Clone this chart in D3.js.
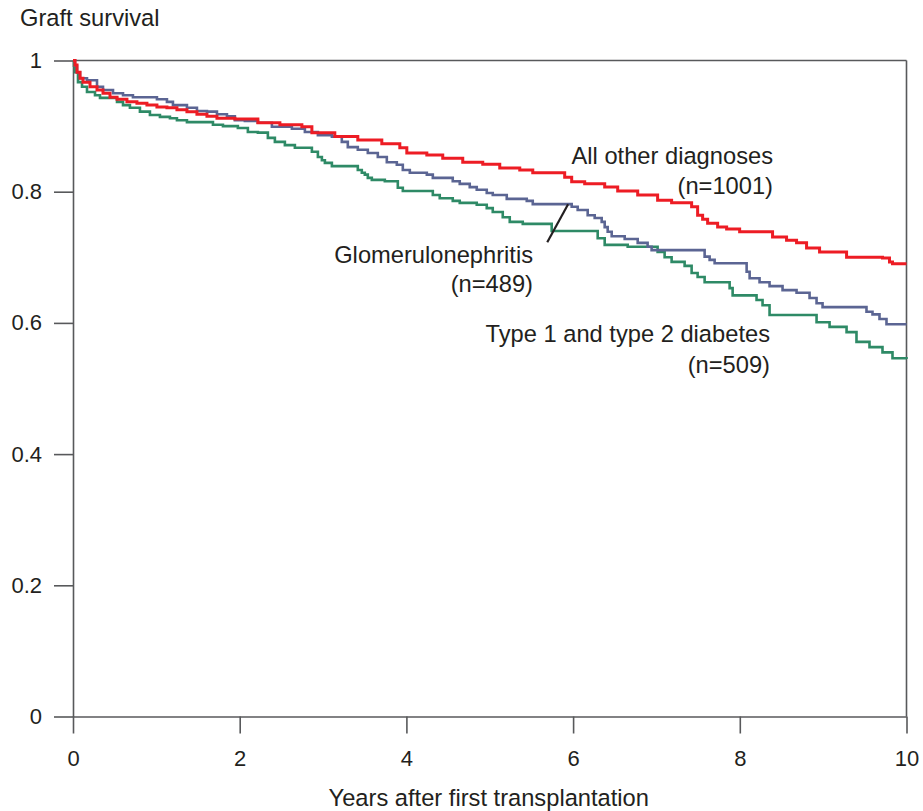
<!DOCTYPE html>
<html>
<head>
<meta charset="utf-8">
<script src="https://cdn.jsdelivr.net/npm/d3@7"></script>
<style>
  html, body { margin: 0; padding: 0; background: #fff; }
  svg text { font-family: "Liberation Sans", Arial, Helvetica, sans-serif; fill: #231f20; }
</style>
</head>
<body>
<div id="chart"></div>
<script>
// ---- Data (years after transplantation, graft survival) ----
const xTicks = [0, 2, 4, 6, 8, 10];
const yTicks = [0, 0.2, 0.4, 0.6, 0.8, 1];
const yTickLabels = ["0", "0.2", "0.4", "0.6", "0.8", "1"];

const otherTimes = [0, 0.024, 0.048, 0.084, 0.12, 0.204, 0.288, 0.36, 0.444, 0.528, 0.647, 0.767, 0.887, 1.007, 1.127, 1.247, 1.367, 1.487, 1.607, 1.727, 1.942, 2.218, 2.482, 2.746, 2.866, 3.141, 3.417, 3.705, 3.921, 4.005, 4.245, 4.436, 4.676, 4.916, 5.12, 5.36, 5.516, 5.899, 5.983, 6.139, 6.379, 6.535, 6.775, 7.014, 7.182, 7.422, 7.494, 7.554, 7.614, 7.734, 7.842, 7.998, 8.393, 8.561, 8.681, 8.801, 8.957, 9.281, 9.712, 9.796, 9.832, 10];
const otherSurv  = [1.0, 0.993, 0.982, 0.973, 0.967, 0.960, 0.955, 0.950, 0.944, 0.941, 0.937, 0.935, 0.932, 0.929, 0.928, 0.925, 0.922, 0.918, 0.915, 0.912, 0.911, 0.905, 0.902, 0.899, 0.890, 0.884, 0.879, 0.873, 0.867, 0.859, 0.856, 0.851, 0.845, 0.842, 0.836, 0.833, 0.829, 0.822, 0.815, 0.812, 0.807, 0.801, 0.795, 0.787, 0.783, 0.777, 0.764, 0.758, 0.752, 0.746, 0.743, 0.739, 0.731, 0.726, 0.722, 0.714, 0.708, 0.700, 0.699, 0.693, 0.690, 0.690];

const glomTimes = [0, 0.024, 0.048, 0.084, 0.168, 0.288, 0.36, 0.48, 0.6, 0.719, 1.007, 1.127, 1.199, 1.367, 1.487, 1.607, 1.727, 1.847, 1.942, 2.062, 2.218, 2.386, 2.626, 2.782, 2.938, 3.106, 3.225, 3.297, 3.417, 3.537, 3.657, 3.765, 3.885, 3.957, 4.041, 4.245, 4.317, 4.556, 4.64, 4.76, 4.844, 4.964, 5.036, 5.204, 5.444, 5.516, 5.983, 6.055, 6.175, 6.259, 6.343, 6.379, 6.415, 6.463, 6.619, 6.775, 6.894, 6.942, 7.578, 7.638, 7.698, 8.082, 8.118, 8.237, 8.357, 8.513, 8.681, 8.837, 8.921, 8.993, 9.52, 9.592, 9.676, 9.76, 10];
const glomSurv  = [1.0, 0.992, 0.982, 0.973, 0.970, 0.960, 0.955, 0.950, 0.947, 0.944, 0.941, 0.937, 0.932, 0.928, 0.923, 0.922, 0.918, 0.915, 0.909, 0.908, 0.905, 0.899, 0.896, 0.891, 0.886, 0.884, 0.876, 0.868, 0.864, 0.859, 0.853, 0.845, 0.841, 0.833, 0.829, 0.826, 0.821, 0.816, 0.812, 0.807, 0.803, 0.798, 0.795, 0.789, 0.786, 0.781, 0.777, 0.772, 0.764, 0.760, 0.754, 0.746, 0.739, 0.732, 0.728, 0.722, 0.716, 0.711, 0.701, 0.696, 0.691, 0.678, 0.668, 0.662, 0.656, 0.650, 0.646, 0.638, 0.630, 0.624, 0.617, 0.613, 0.606, 0.598, 0.598];

const diabTimes = [0, 0.012, 0.024, 0.06, 0.108, 0.168, 0.264, 0.324, 0.528, 0.6, 0.683, 0.803, 0.923, 1.043, 1.163, 1.247, 1.367, 1.679, 1.799, 1.978, 2.098, 2.218, 2.338, 2.422, 2.542, 2.662, 2.866, 2.938, 2.986, 3.022, 3.106, 3.417, 3.465, 3.501, 3.537, 3.585, 3.741, 3.897, 3.957, 4.317, 4.4, 4.556, 4.64, 4.844, 4.964, 5.036, 5.156, 5.24, 5.396, 5.743, 6.295, 6.379, 6.655, 7.014, 7.098, 7.182, 7.338, 7.422, 7.494, 7.578, 7.878, 7.914, 8.201, 8.273, 8.357, 8.921, 9.077, 9.281, 9.4, 9.556, 9.712, 9.832, 10];
const diabSurv  = [1.0, 0.992, 0.982, 0.967, 0.960, 0.952, 0.947, 0.943, 0.937, 0.932, 0.928, 0.922, 0.917, 0.914, 0.912, 0.909, 0.906, 0.902, 0.900, 0.897, 0.891, 0.890, 0.882, 0.876, 0.871, 0.867, 0.861, 0.853, 0.848, 0.844, 0.839, 0.833, 0.829, 0.826, 0.821, 0.818, 0.816, 0.806, 0.801, 0.795, 0.790, 0.786, 0.783, 0.780, 0.775, 0.769, 0.761, 0.754, 0.751, 0.740, 0.729, 0.719, 0.716, 0.708, 0.700, 0.693, 0.687, 0.676, 0.670, 0.662, 0.653, 0.642, 0.635, 0.627, 0.612, 0.601, 0.594, 0.586, 0.571, 0.563, 0.555, 0.546, 0.545];

const seriesNames = ["All other diagnoses", "Glomerulonephritis", "Type 1 and type 2 diabetes"];
const seriesCounts = ["(n=1001)", "(n=489)", "(n=509)"];
const seriesColors = ["#ed1c24", "#5b6593", "#2e8a66"];

// ---- Layout ----
const W = 923, H = 811;
const margin = { left: 73, top: 60.5, right: 16.5, bottom: 94.5 };
const x = d3.scaleLinear().domain([0, 10]).range([margin.left, W - margin.right]);
const y = d3.scaleLinear().domain([0, 1]).range([H - margin.bottom, margin.top]);

const svg = d3.select("#chart").append("svg").attr("width", W).attr("height", H);

const axisColor = "#58595b";

// frame: top and right lines
svg.append("line").attr("x1", x(0)).attr("x2", x(10)).attr("y1", y(1)).attr("y2", y(1))
  .attr("stroke", axisColor).attr("stroke-width", 1.6);
svg.append("line").attr("x1", x(10)).attr("x2", x(10)).attr("y1", y(1)).attr("y2", y(0))
  .attr("stroke", axisColor).attr("stroke-width", 1.6);

// axes
const xAxis = svg.append("g").attr("transform", `translate(0,${y(0)})`)
  .call(d3.axisBottom(x).tickValues(xTicks).tickFormat(d3.format("d")).tickSize(17).tickSizeOuter(0).tickPadding(17));
const yAxis = svg.append("g").attr("transform", `translate(${x(0)},0)`)
  .call(d3.axisLeft(y).tickValues(yTicks).tickFormat((d, i) => yTickLabels[i]).tickSize(19).tickSizeOuter(0).tickPadding(12));

[xAxis, yAxis].forEach(g => {
  g.select(".domain").attr("stroke", axisColor).attr("stroke-width", 1.6);
  g.selectAll(".tick line").attr("stroke", axisColor).attr("stroke-width", 1.6);
  g.selectAll(".tick text").attr("font-size", 22).attr("fill", "#231f20")
    .style("font-family", '"Liberation Sans", Arial, sans-serif');
});

// curves
const line = d3.line().x(d => x(d[0])).y(d => y(d[1])).curve(d3.curveStepAfter);
const allSeries = [
  { t: otherTimes, s: otherSurv },
  { t: glomTimes, s: glomSurv },
  { t: diabTimes, s: diabSurv }
];
// draw green first, then blue, then red on top
[2, 1, 0].forEach(i => {
  const pts = allSeries[i].t.map((t, k) => [t, allSeries[i].s[k]]);
  svg.append("path").attr("d", line(pts)).attr("fill", "none")
    .attr("stroke", seriesColors[i]).attr("stroke-width", i === 0 ? 3 : 2.6);
});

// pointer for Glomerulonephritis
svg.append("line").attr("x1", x(5.69)).attr("y1", y(0.723)).attr("x2", x(5.94)).attr("y2", y(0.781))
  .attr("stroke", "#231f20").attr("stroke-width", 2.2);

// labels
const fs = 23.7;
const labels = [
  { lines: [seriesNames[0], seriesCounts[0]], xEnd: 773, y0: 164, dy: 30 },
  { lines: [seriesNames[1], seriesCounts[1]], xEnd: 533, y0: 263, dy: 29 },
  { lines: [seriesNames[2], seriesCounts[2]], xEnd: 770, y0: 342, dy: 31 }
];
labels.forEach(l => {
  l.lines.forEach((t, k) => {
    svg.append("text").attr("x", l.xEnd).attr("y", l.y0 + k * l.dy)
      .attr("text-anchor", "end").attr("font-size", fs).text(t);
  });
});

// axis titles
svg.append("text").attr("x", 20).attr("y", 26).attr("font-size", fs).text("Graft survival");
svg.append("text").attr("x", (x(0) + x(10)) / 2 - 1).attr("y", 806).attr("text-anchor", "middle")
  .attr("font-size", fs).text("Years after first transplantation");
</script>
</body>
</html>
